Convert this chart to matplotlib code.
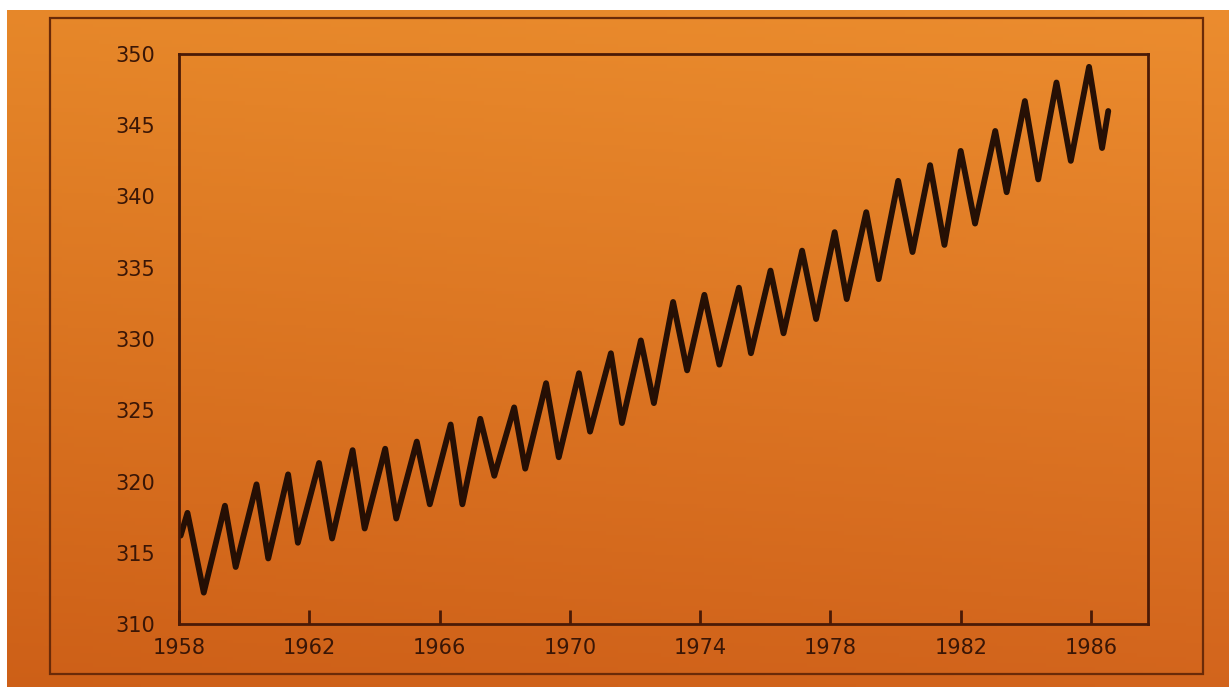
import numpy as np
import matplotlib
matplotlib.use("Agg")
import matplotlib.pyplot as plt
from matplotlib.patches import Rectangle
from matplotlib.colors import to_rgb

# ---- data (decimal year, ppm) ----
start_time, start_val = 1958.05, 316.2
peak_time = [1958.26, 1959.41, 1960.38, 1961.35, 1962.30, 1963.33, 1964.33, 1965.30,
             1966.34, 1967.25, 1968.29, 1969.27, 1970.28, 1971.26, 1972.18, 1973.17,
             1974.13, 1975.19, 1976.16, 1977.13, 1978.13, 1979.10, 1980.08, 1981.06,
             1982.00, 1983.06, 1983.97, 1984.94, 1985.94]
peak_val = [317.8, 318.3, 319.8, 320.5, 321.3, 322.2, 322.3, 322.8,
            324.0, 324.4, 325.2, 326.9, 327.6, 329.0, 329.9, 332.6,
            333.1, 333.6, 334.8, 336.2, 337.5, 338.9, 341.1, 342.2,
            343.2, 344.6, 346.7, 348.0, 349.1]
trough_time = [1958.76, 1959.74, 1960.74, 1961.65, 1962.70, 1963.70, 1964.67, 1965.70,
               1966.70, 1967.68, 1968.63, 1969.66, 1970.62, 1971.60, 1972.58, 1973.60,
               1974.59, 1975.56, 1976.56, 1977.56, 1978.50, 1979.48, 1980.52, 1981.50,
               1982.44, 1983.41, 1984.38, 1985.38, 1986.34]
trough_val = [312.2, 314.0, 314.6, 315.7, 316.0, 316.7, 317.4, 318.4,
              318.4, 320.4, 320.9, 321.7, 323.5, 324.1, 325.5, 327.8,
              328.2, 329.0, 330.4, 331.4, 332.8, 334.2, 336.1, 336.6,
              338.1, 340.3, 341.2, 342.5, 343.4]
end_time, end_val = 1986.53, 346.0

x_ticks = [1958, 1962, 1966, 1970, 1974, 1978, 1982, 1986]
y_ticks = [310, 315, 320, 325, 330, 335, 340, 345, 350]

# interleave peaks and troughs
times = [start_time]
vals = [start_val]
for pt, pv, tt, tv in zip(peak_time, peak_val, trough_time, trough_val):
    times += [pt, tt]
    vals += [pv, tv]
times.append(end_time)
vals.append(end_val)

W, H = 1229, 687
fig = plt.figure(figsize=(W / 100, H / 100), dpi=100)
fig.patch.set_facecolor("white")

# orange paper background with a soft gradient
bg = fig.add_axes([7 / W, 0, 1 - 7 / W, 1 - 10 / H], zorder=0)
top = np.array(to_rgb("#e98a2c"))
bot = np.array(to_rgb("#d0621a"))
ny, nx = 200, 200
yy = np.linspace(0, 1, ny)[:, None, None]
xx = np.linspace(0, 1, nx)[None, :, None]
img = top * (1 - yy) + bot * yy
img = img + 0.02 * (xx - 0.5) * np.ones((1, 1, 3))
img = np.clip(img, 0, 1)
bg.imshow(img, aspect="auto", extent=[0, 1, 0, 1], origin="upper")
bg.set_xlim(0, 1)
bg.set_ylim(0, 1)
bg.axis("off")

# outer frame of the printed page
frame_col = "#6a2a08"
fx0, fx1 = 50 / W, 1203 / W
fy0, fy1 = 1 - 674 / H, 1 - 18 / H
fig.add_artist(Rectangle((fx0, fy0), fx1 - fx0, fy1 - fy0, transform=fig.transFigure,
                         fill=False, edgecolor=frame_col, linewidth=1.6, zorder=1))

# main axes
L, R, T, B = 179, 1148, 54, 624
ax = fig.add_axes([L / W, 1 - B / H, (R - L) / W, (B - T) / H], zorder=2)
ax.set_facecolor("none")
ink = "#1c0a03"
ax.plot(times, vals, color=ink, linewidth=4.2, solid_joinstyle="round",
        solid_capstyle="round", alpha=0.95)
ax.set_xlim(1958, 1987.75)
ax.set_ylim(310, 350)

spine_col = "#4a1a06"
for s in ax.spines.values():
    s.set_color(spine_col)
    s.set_linewidth(2.0)

label_col = "#3a1606"
ax.set_xticks(x_ticks)
ax.set_xticklabels([str(v) for v in x_ticks])
ax.set_yticks(y_ticks)
ax.set_yticklabels([str(v) for v in y_ticks])
ax.tick_params(axis="x", direction="in", length=10, width=2, color=spine_col,
               labelsize=15, labelcolor=label_col, pad=10)
ax.tick_params(axis="y", length=0, labelsize=15, labelcolor=label_col, pad=17)

fig.savefig("out.png", dpi=100)
